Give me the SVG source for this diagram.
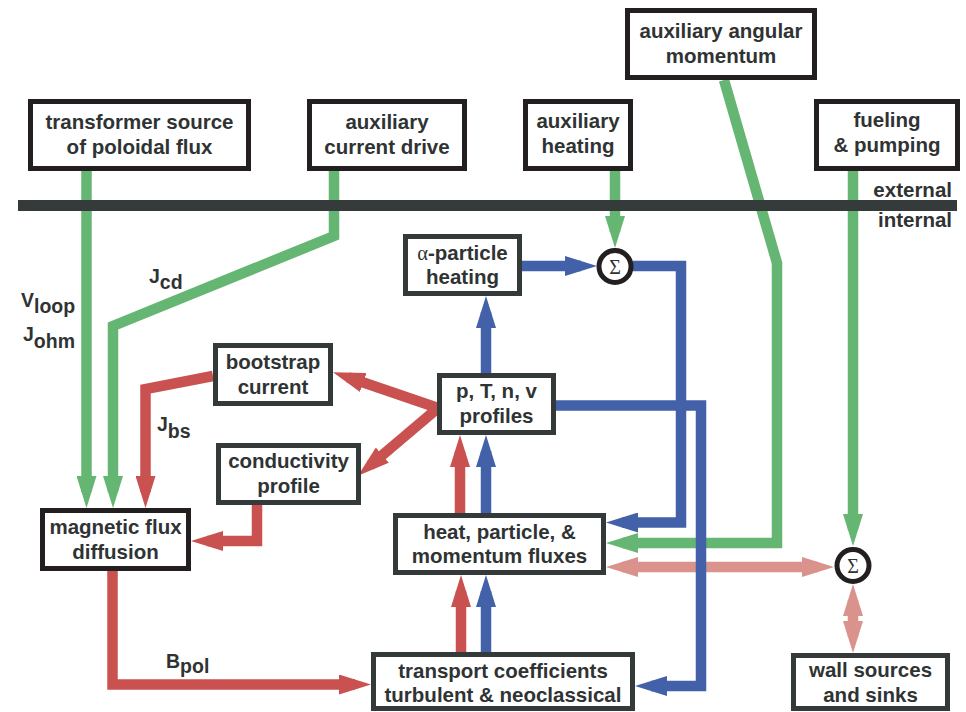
<svg xmlns="http://www.w3.org/2000/svg" width="966" height="712" viewBox="0 0 966 712">
<style>
.box{fill:#fff;stroke-width:5}
.bk{stroke:#231f20}
.gy{stroke:#343939}
.t{font-family:"Liberation Sans",Arial,Helvetica,sans-serif;font-weight:bold;font-size:20.5px;fill:#2f3333;text-anchor:middle}
.lbl{font-family:"Liberation Sans",Arial,Helvetica,sans-serif;font-weight:bold;font-size:19.5px;fill:#2f3333}
.side{font-family:"Liberation Sans",Arial,Helvetica,sans-serif;font-weight:bold;font-size:20.5px;fill:#2f3333;text-anchor:end}
.sig{font-family:"Liberation Serif","Times New Roman",serif;font-size:20px;fill:#2f3333;text-anchor:middle}
.ln{fill:none;stroke-width:10.5;stroke-linejoin:miter;stroke-linecap:butt}
.g{stroke:#64b672}
.r{stroke:#c9514f}
.b{stroke:#4361a9}
.p{stroke:#da928c}
.circ{fill:#fff;stroke:#231f20;stroke-width:5}
</style>
<defs>
<marker id="ag" viewBox="0 0 32 20" markerUnits="userSpaceOnUse" markerWidth="32" markerHeight="20" refX="16" refY="10" orient="auto"><path d="M0,0 L32,10 L0,20 z" fill="#64b672"/></marker>
<marker id="ar" viewBox="0 0 32 20" markerUnits="userSpaceOnUse" markerWidth="32" markerHeight="20" refX="16" refY="10" orient="auto"><path d="M0,0 L32,10 L0,20 z" fill="#c9514f"/></marker>
<marker id="ab" viewBox="0 0 32 20" markerUnits="userSpaceOnUse" markerWidth="32" markerHeight="20" refX="16" refY="10" orient="auto"><path d="M0,0 L32,10 L0,20 z" fill="#4361a9"/></marker>
<marker id="ap" viewBox="0 0 32 20" markerUnits="userSpaceOnUse" markerWidth="32" markerHeight="20" refX="16" refY="10" orient="auto-start-reverse"><path d="M0,0 L32,10 L0,20 z" fill="#da928c"/></marker>
</defs>

<g id="connectors">
  <!-- pink -->
  <path class="ln p" d="M622,567 H818" marker-start="url(#ap)" marker-end="url(#ap)"/>
  <path class="ln p" d="M853,600 V637" marker-start="url(#ap)" marker-end="url(#ap)"/>
  <!-- green -->
  <path class="ln g" d="M86.5,171 V492" marker-end="url(#ag)"/>
  <path class="ln g" d="M334,171 V236 L113,326 V492" marker-end="url(#ag)"/>
  <path class="ln g" d="M615,171 V232" marker-end="url(#ag)"/>
  <path class="ln g" d="M724,80 L777,263 V543 H622" marker-end="url(#ag)"/>
  <path class="ln g" d="M853,171 V530" marker-end="url(#ag)"/>
  <!-- red -->
  <path class="ln r" d="M438,408 L348.1,377.3" marker-end="url(#ar)"/>
  <path class="ln r" d="M438,408 L370.1,465.5" marker-end="url(#ar)"/>
  <path class="ln r" d="M213,376 L145.5,389 V492" marker-end="url(#ar)"/>
  <path class="ln r" d="M257,505 V541 H207" marker-end="url(#ar)"/>
  <path class="ln r" d="M112.5,571 V684.5 H355" marker-end="url(#ar)"/>
  <path class="ln r" d="M461,652 V591" marker-end="url(#ar)"/>
  <path class="ln r" d="M460,513 V451" marker-end="url(#ar)"/>
  <!-- blue -->
  <path class="ln b" d="M486,373 V312" marker-end="url(#ab)"/>
  <path class="ln b" d="M522,266 H581" marker-end="url(#ab)"/>
  <path class="ln b" d="M486,652 V591" marker-end="url(#ab)"/>
  <path class="ln b" d="M486,513 V451" marker-end="url(#ab)"/>
  <path class="ln b" d="M556,405.5 H701 V686 H651" marker-end="url(#ab)"/>
  <path class="ln b" d="M633,266 H681 V522.5 H622" marker-end="url(#ab)"/>
</g>

<g id="boundary">
  <rect x="18" y="200" width="939" height="11" fill="#353a3a"/>
  <text class="side" x="952" y="197">external</text>
  <text class="side" x="952" y="227">internal</text>
</g>

<g id="labels">
  <text class="lbl" x="21" y="307">V<tspan dy="6">loop</tspan></text>
  <text class="lbl" x="23" y="341">J<tspan dy="7">ohm</tspan></text>
  <text class="lbl" x="149" y="283">J<tspan dy="6">cd</tspan></text>
  <text class="lbl" x="157" y="431">J<tspan dy="7">bs</tspan></text>
  <text class="lbl" x="166" y="668">B<tspan dy="5">pol</tspan></text>
</g>

<g id="transformer">
  <rect class="box bk" x="30.5" y="101.5" width="218" height="67"/>
  <text class="t" x="139.5" y="129">transformer source</text>
  <text class="t" x="139.5" y="154">of poloidal flux</text>
</g>
<g id="aux-current-drive">
  <rect class="box bk" x="309.5" y="101.5" width="155" height="67"/>
  <text class="t" x="387" y="129">auxiliary</text>
  <text class="t" x="387" y="154">current drive</text>
</g>
<g id="aux-heating">
  <rect class="box bk" x="525.5" y="101.5" width="105" height="67"/>
  <text class="t" x="578" y="128">auxiliary</text>
  <text class="t" x="578" y="153">heating</text>
</g>
<g id="aux-angular-momentum">
  <rect class="box bk" x="627.5" y="10.5" width="187" height="67"/>
  <text class="t" x="721" y="38">auxiliary angular</text>
  <text class="t" x="721" y="63">momentum</text>
</g>
<g id="fueling">
  <rect class="box bk" x="816.5" y="101.5" width="141" height="67"/>
  <text class="t" x="887" y="127">fueling</text>
  <text class="t" x="887" y="152">&amp; pumping</text>
</g>
<g id="alpha-heating">
  <rect class="box gy" x="405.5" y="236.5" width="114" height="57"/>
  <text class="t" x="462.5" y="260"><tspan font-family="Liberation Serif, serif" font-weight="normal">α</tspan>-particle</text>
  <text class="t" x="462.5" y="284">heating</text>
</g>
<g id="sum1">
  <circle class="circ" cx="615" cy="266.5" r="16"/>
  <text class="sig" x="615" y="273.5">Σ</text>
</g>
<g id="bootstrap">
  <rect class="box gy" x="215.5" y="345.5" width="115" height="58"/>
  <text class="t" x="273" y="369">bootstrap</text>
  <text class="t" x="273" y="394">current</text>
</g>
<g id="conductivity">
  <rect class="box gy" x="218.5" y="445.5" width="140" height="57"/>
  <text class="t" x="288.5" y="468">conductivity</text>
  <text class="t" x="288.5" y="493">profile</text>
</g>
<g id="magnetic-flux">
  <rect class="box bk" x="42.5" y="510.5" width="146" height="58"/>
  <text class="t" x="115.5" y="534">magnetic flux</text>
  <text class="t" x="115.5" y="559">diffusion</text>
</g>
<g id="profiles">
  <rect class="box gy" x="439.5" y="375.5" width="114" height="57"/>
  <text class="t" x="496.5" y="398">p, T, n, v</text>
  <text class="t" x="496.5" y="423">profiles</text>
</g>
<g id="fluxes">
  <rect class="box gy" x="395.5" y="515.5" width="208" height="57"/>
  <text class="t" x="499.5" y="539">heat, particle, &amp;</text>
  <text class="t" x="499.5" y="563">momentum fluxes</text>
</g>
<g id="sum2">
  <circle class="circ" cx="853" cy="565.5" r="16"/>
  <text class="sig" x="853" y="572.5">Σ</text>
</g>
<g id="transport">
  <rect class="box gy" x="373.5" y="654.5" width="259" height="54"/>
  <text class="t" x="503" y="678">transport coefficients</text>
  <text class="t" x="503" y="702">turbulent &amp; neoclassical</text>
</g>
<g id="wall">
  <rect class="box gy" x="793.5" y="655.5" width="154" height="53"/>
  <text class="t" x="870.5" y="677">wall sources</text>
  <text class="t" x="870.5" y="702">and sinks</text>
</g>
</svg>
